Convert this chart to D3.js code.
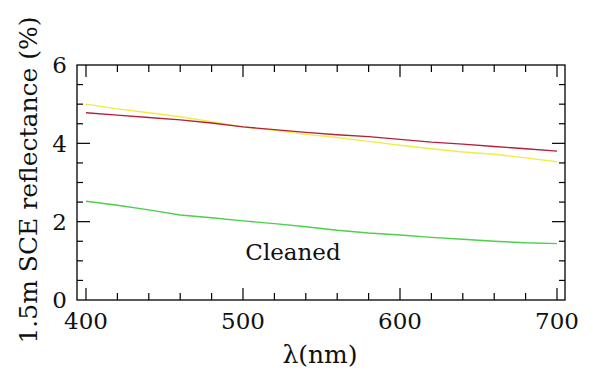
<!DOCTYPE html>
<html><head><meta charset="utf-8">
<script src="https://cdn.jsdelivr.net/npm/d3@7"></script>
<style>body{margin:0;background:#fff}svg{display:block}text{font-family:"DejaVu Serif",serif;fill:#111}</style>
</head><body><div id="c"></div>
<script>
const wavelengths = [400,420,440,460,480,500,520,540,560,580,600,620,640,660,680,700];
const redSeries    = [4.78,4.72,4.66,4.60,4.52,4.42,4.35,4.28,4.22,4.17,4.10,4.03,3.98,3.92,3.86,3.80];
const yellowSeries = [5.00,4.88,4.78,4.68,4.55,4.42,4.33,4.23,4.15,4.05,3.95,3.86,3.78,3.72,3.63,3.53];
const greenSeries  = [2.52,2.42,2.30,2.17,2.10,2.02,1.95,1.87,1.78,1.71,1.66,1.60,1.55,1.50,1.46,1.44];
const xTickLabels = [400,500,600,700];
const yTickLabels = [0,2,4,6];
const annotation = "Cleaned";

const W=593,H=386;
const box={l:77,r:565,t:65,b:300};
const x=d3.scaleLinear().domain([400,700]).range([86,557]);
const y=d3.scaleLinear().domain([0,6]).range([300,65]);
const svg=d3.select("#c").append("svg").attr("width",W).attr("height",H);

svg.append("rect").attr("x",box.l).attr("y",box.t).attr("width",box.r-box.l).attr("height",box.b-box.t)
  .attr("fill","none").attr("stroke","#000").attr("stroke-width",1.3);

const xMinor=d3.range(400,701,20), yMinor=d3.range(0,6.01,0.5);
const tk=svg.append("g").attr("stroke","#000").attr("stroke-width",1.2);
xMinor.forEach(v=>{const L=(v%100===0)?12:7;
  tk.append("line").attr("x1",x(v)).attr("x2",x(v)).attr("y1",box.b).attr("y2",box.b-L);
  tk.append("line").attr("x1",x(v)).attr("x2",x(v)).attr("y1",box.t).attr("y2",box.t+L);});
yMinor.forEach(v=>{if(v===0||v===6)return;const L=(Math.abs(v%2)<1e-6)?13:6;
  tk.append("line").attr("y1",y(v)).attr("y2",y(v)).attr("x1",box.l).attr("x2",box.l+L);
  tk.append("line").attr("y1",y(v)).attr("y2",y(v)).attr("x1",box.r).attr("x2",box.r-L);});

xTickLabels.forEach(v=>svg.append("text").attr("x",x(v)).attr("y",329).attr("text-anchor","middle")
  .attr("font-size",23).text(v));
yTickLabels.forEach(v=>svg.append("text").attr("x",67).attr("y",y(v)).attr("dy","0.36em").attr("text-anchor","end")
  .attr("font-size",23).text(v));

svg.append("text").attr("x",320).attr("y",363).attr("text-anchor","middle").attr("font-size",25).text("λ(nm)");
svg.append("text").attr("transform","translate(37,180) rotate(-90)").attr("text-anchor","middle")
  .attr("font-size",25).text("1.5m SCE reflectance (%)");
svg.append("text").attr("x",293).attr("y",260).attr("text-anchor","middle").attr("font-size",23).text(annotation);

const line=d3.line().x((d,i)=>x(wavelengths[i])).y(d=>y(d));
[[greenSeries,"#4ccf4c"],[yellowSeries,"#eeee44"],[redSeries,"#b4203c"]].forEach(([s,c])=>
  svg.append("path").datum(s).attr("d",line).attr("fill","none").attr("stroke",c).attr("stroke-width",1.4));
</script></body></html>
